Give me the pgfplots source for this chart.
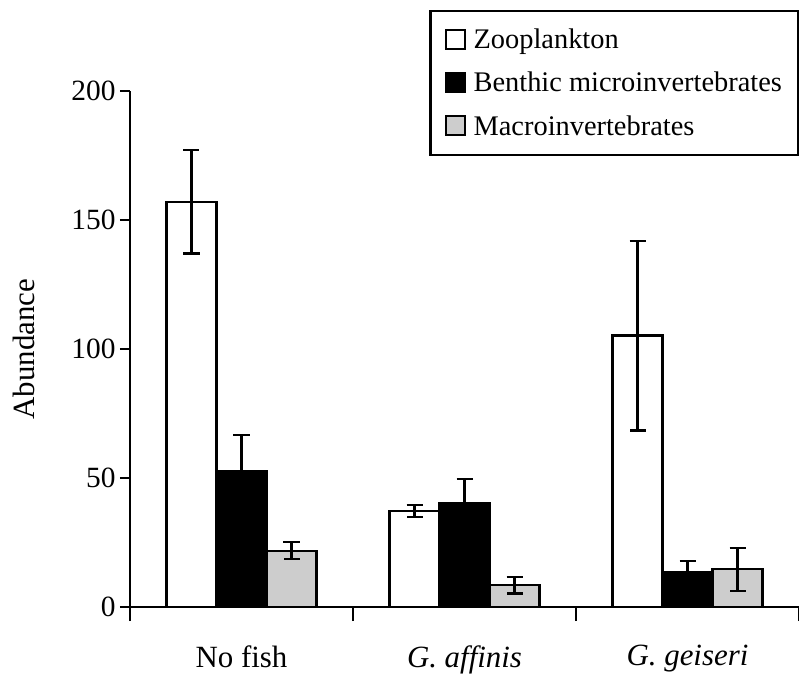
\documentclass[border=0pt]{standalone}
\usepackage{pgfplots}
\pgfplotsset{compat=1.18}
\usepackage{fontspec}
\setmainfont{Liberation Serif}
\definecolor{dotgray}{RGB}{205,205,205}
\pgfplotsset{
  myerr/.style={
    error bars/.cd,
      y dir=both, y explicit,
      error bar style={line width=2.2bp, black},
      error mark options={rotate=90, mark size=8bp, line width=2.2bp, black},
  },
}
\begin{document}
\begin{tikzpicture}
\begin{axis}[
  scale only axis,
  width=669bp, height=516bp,
  xmin=-0.5, xmax=2.5, ymin=0, ymax=200,
  enlargelimits=false,
  axis lines=left,
  axis line style={-, line width=2.2bp},
  ybar=0pt, bar width=50bp,
  xtick={0,1,2},
  xticklabels={No fish, \textit{G. affinis}, \textit{G. geiseri}},
  minor xtick={-0.5,0.5,1.5,2.5},
  major x tick style={draw=none},
  ytick={0,50,100,150,200},
  tick align=outside,
  major tick length=10bp,
  minor tick length=14bp,
  tick style={line width=2.2bp, black},
  /pgf/number format/assume math mode=true,
  xticklabel style={font=\fontsize{31}{34}\selectfont, yshift=-25bp},
  yticklabel style={font=\fontsize{29.5}{33}\selectfont, xshift=-1bp},
  ylabel={Abundance},
  ylabel style={font=\fontsize{31}{34}\selectfont, at={(axis description cs:0,0.5)}, anchor=center, yshift=106bp},
  legend cell align=left,
  legend style={at={(1,1.157)}, anchor=north east, draw=black, line width=2.2bp,
    font=\fontsize{28.5}{30}\selectfont, inner xsep=14bp, inner ysep=16bp, row sep=18bp},
  legend image code/.code={\draw[#1, line width=2bp] (0bp,-9bp) rectangle (19bp,10bp); \path (25bp,0bp);},
]
\addplot[draw=black, line width=2.2bp, fill=white, myerr] coordinates {
  (0,157.0) +- (0,20.0)
  (1,37.2) +- (0,2.2)
  (2,105.2) +- (0,36.8)
};
\addplot[draw=black, line width=2.2bp, fill=black, myerr] coordinates {
  (0,52.8) +- (0,13.9)
  (1,40.2) +- (0,9.5)
  (2,13.4) +- (0,4.3)
};
\addplot[draw=black, line width=2.2bp, fill=dotgray, myerr] coordinates {
  (0,21.8) +- (0,3.3)
  (1,8.4) +- (0,3.2)
  (2,14.6) +- (0,8.4)
};
\legend{Zooplankton, Benthic microinvertebrates, Macroinvertebrates}
\coordinate (bl) at (rel axis cs:0,0);
\coordinate (tr) at (rel axis cs:1,1);
\end{axis}
\pgfresetboundingbox
\path[use as bounding box] ([xshift=-130bp,yshift=-74bp]bl) rectangle ([yshift=91bp]tr);
\end{tikzpicture}
\end{document}
